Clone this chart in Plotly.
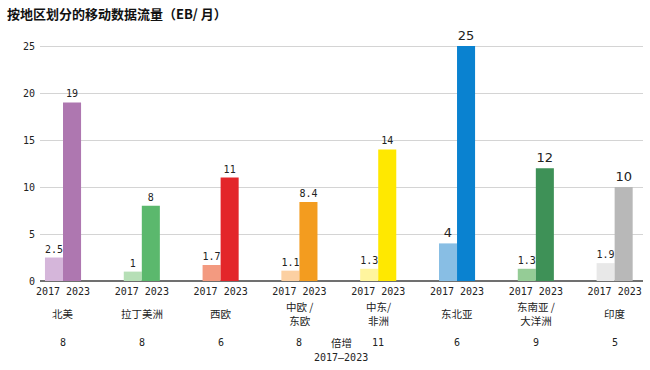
import plotly.graph_objects as go

regions = ["北美", "拉丁美洲", "西欧", "中欧 /<br>东欧", "中东/<br>非洲", "东北亚", "东南亚 /<br>大洋洲", "印度"]
v2017 = [2.5, 1, 1.7, 1.1, 1.3, 4, 1.3, 1.9]
v2023 = [19, 8, 11, 8.4, 14, 25, 12, 10]
label2017 = ["2.5", "1", "1.7", "1.1", "1.3", "4", "1.3", "1.9"]
label2023 = ["19", "8", "11", "8.4", "14", "25", "12", "10"]
multiples = ["8", "8", "6", "8", "11", "6", "9", "5"]
tick_labels = ["2017 2023"] * 8
yticks = [0, 5, 10, 15, 20, 25]

c2017 = ["#d5b6da", "#b6dfb6", "#f39a80", "#fcd0a2", "#fff59e", "#88bee4", "#95cc96", "#e8e8e8"]
c2023 = ["#ae77b0", "#5bb86d", "#e3262a", "#f39c1f", "#ffe800", "#0a82d0", "#3e9157", "#b8b8b8"]

MONO = "DejaVu Sans Mono"
SANS = "DejaVu Sans"
CJK = "Noto Sans CJK SC"
big2017 = [False, False, False, False, False, True, False, False]
big2023 = [False, False, False, False, False, True, True, True]

xs = list(range(len(regions)))
W = 0.229

fig = go.Figure()
fig.add_trace(go.Bar(
    x=xs, y=v2017, width=W, offset=-W, marker=dict(color=c2017, line=dict(width=0)),
    text=label2017, textposition="outside", cliponaxis=False,
    textfont=dict(family=[SANS if b else MONO for b in big2017],
                  size=[13 if b else 10 for b in big2017], color="#222"),
    hoverinfo="skip"))
fig.add_trace(go.Bar(
    x=xs, y=v2023, width=W, offset=0, marker=dict(color=c2023, line=dict(width=0)),
    text=label2023, textposition="outside", cliponaxis=False,
    textfont=dict(family=[SANS if b else MONO for b in big2023],
                  size=[13 if b else 10 for b in big2023], color="#222"),
    hoverinfo="skip"))

annotations = []
for i, r in enumerate(regions):
    annotations.append(dict(x=i, y=0, xref="x", yref="paper", text=r, showarrow=False,
                            yanchor="middle", yshift=-32,
                            font=dict(family=CJK, size=10.5, color="#222")))
    annotations.append(dict(x=i, y=0, xref="x", yref="paper", text=multiples[i], showarrow=False,
                            yanchor="middle", yshift=-61,
                            font=dict(family=MONO, size=10, color="#222")))
annotations.append(dict(x=3.53, y=0, xref="x", yref="paper", text="倍增", showarrow=False,
                        yanchor="middle", yshift=-61,
                        font=dict(family=CJK, size=10.5, color="#222")))
annotations.append(dict(x=3.53, y=0, xref="x", yref="paper", text="2017–2023", showarrow=False,
                        yanchor="middle", yshift=-76,
                        font=dict(family=MONO, size=10, color="#222")))
annotations.append(dict(x=0, y=1, xref="paper", yref="paper", text="<b>按地区划分的移动数据流量（EB/ 月）</b>",
                        showarrow=False, xanchor="left", yanchor="middle", xshift=-35, yshift=27,
                        font=dict(family=CJK, size=13, color="#111")))

fig.update_layout(
    width=650, height=370, barmode="overlay", showlegend=False,
    margin=dict(l=40, r=7, t=40, b=89, autoexpand=False),
    plot_bgcolor="white", paper_bgcolor="white",
    annotations=annotations,
    xaxis=dict(range=[-0.292, 7.36], tickvals=xs, ticktext=tick_labels, showgrid=False,
               zeroline=False, showline=False, ticks="", automargin=False, ticklabelstandoff=3,
               tickfont=dict(family=MONO, size=10, color="#222")),
    yaxis=dict(range=[0, 25.64], tickvals=yticks, showgrid=True, gridcolor="#d4d4d4", gridwidth=1,
               zeroline=True, zerolinecolor="#707070", zerolinewidth=2, showline=False, ticks="",
               automargin=False, ticklabelstandoff=4,
               tickfont=dict(family=MONO, size=10, color="#222")),
)

fig.write_html("out.html", config={"displayModeBar": False},
               post_script="document.body.style.margin='0';document.body.style.padding='0';")
